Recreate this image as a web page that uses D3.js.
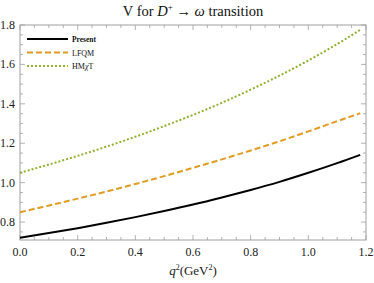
<!DOCTYPE html>
<html><head><meta charset="utf-8">
<script src="https://cdn.jsdelivr.net/npm/d3@7"></script>
<style>body{margin:0;background:#fff}svg{display:block}text{font-family:"Liberation Serif","DejaVu Serif",serif}</style>
</head><body>
<script>
const q2 = [0, 0.1, 0.2, 0.3, 0.4, 0.5, 0.6, 0.7, 0.8, 0.9, 1.0, 1.1, 1.18];
const present = [0.720, 0.744, 0.769, 0.796, 0.825, 0.856, 0.889, 0.925, 0.963, 1.004, 1.050, 1.099, 1.141];
const lfqm    = [0.850, 0.884, 0.919, 0.955, 0.993, 1.033, 1.075, 1.118, 1.163, 1.210, 1.260, 1.312, 1.352];
const hmxt    = [1.050, 1.092, 1.136, 1.183, 1.233, 1.287, 1.344, 1.405, 1.472, 1.543, 1.620, 1.703, 1.776];
const seriesNames = ["Present", "LFQM", "HMχT"];
const xTicks = [0, 0.2, 0.4, 0.6, 0.8, 1.0, 1.2];
const yTicks = [0.8, 1.0, 1.2, 1.4, 1.6, 1.8];

const W = 374, H = 283;
const m = {l: 20, r: 8, t: 25, b: 43};
const svg = d3.select("body").append("svg").attr("width", W).attr("height", H);
const x = d3.scaleLinear().domain([0, 1.2]).range([m.l, W - m.r]);
const y = d3.scaleLinear().domain([0.709, 1.8]).range([H - m.b, m.t]);

// frame
const frameColor = "#a0a0a0";
svg.append("rect").attr("x", x(0)).attr("y", y(1.8)).attr("width", x(1.2) - x(0)).attr("height", y(0.709) - y(1.8))
  .attr("fill", "none").attr("stroke", frameColor).attr("stroke-width", 1);

const xMinor = d3.range(0, 1.2001, 0.05);
const yMinor = d3.range(0.75, 1.8001, 0.05);
const isMajor = (v, arr) => arr.some(t => Math.abs(t - v) < 1e-6);
const tg = svg.append("g").attr("stroke", frameColor).attr("stroke-width", 0.8);
xMinor.forEach(v => {
  const L = isMajor(v, xTicks) ? 5 : 3;
  tg.append("line").attr("x1", x(v)).attr("x2", x(v)).attr("y1", y(0.709)).attr("y2", y(0.709) - L);
  tg.append("line").attr("x1", x(v)).attr("x2", x(v)).attr("y1", y(1.8)).attr("y2", y(1.8) + L);
});
yMinor.forEach(v => {
  const L = isMajor(v, yTicks) ? 5 : 3;
  tg.append("line").attr("y1", y(v)).attr("y2", y(v)).attr("x1", x(0)).attr("x2", x(0) + L);
  tg.append("line").attr("y1", y(v)).attr("y2", y(v)).attr("x1", x(1.2)).attr("x2", x(1.2) - L);
});

// tick labels
svg.append("g").selectAll("text").data(xTicks).join("text")
  .attr("x", d => x(d)).attr("y", H - m.b + 16).attr("text-anchor", "middle")
  .attr("font-size", 12).attr("fill", "#222").text(d => d.toFixed(1));
svg.append("g").selectAll("text").data(yTicks).join("text")
  .attr("x", 15).attr("y", d => y(d) + 4).attr("text-anchor", "end")
  .attr("font-size", 12).attr("fill", "#222").text(d => d.toFixed(1));

// axis label
const xl = svg.append("text").attr("x", 193).attr("y", 275).attr("text-anchor", "middle").attr("font-size", 13).attr("fill", "#222");
xl.append("tspan").attr("font-style", "italic").text("q");
xl.append("tspan").attr("font-size", 8).attr("dy", -5).text("2");
xl.append("tspan").attr("dy", 5).text("(GeV");
xl.append("tspan").attr("font-size", 8).attr("dy", -5).text("2");
xl.append("tspan").attr("dy", 5).text(")");

// title
const tt = svg.append("text").attr("x", 193).attr("y", 16).attr("text-anchor", "middle").attr("font-size", 14.5).attr("fill", "#111");
tt.append("tspan").text("V for ");
tt.append("tspan").attr("font-style", "italic").text("D");
tt.append("tspan").attr("font-size", 9).attr("dy", -6).text("+");
tt.append("tspan").attr("dy", 6).text(" → ");
tt.append("tspan").attr("font-style", "italic").text("ω");
tt.append("tspan").text(" transition");

// curves
const styles = [
  {data: present, color: "#000000", dash: null, width: 2},
  {data: lfqm, color: "#E09C24", dash: "6,3", width: 2},
  {data: hmxt, color: "#8FB032", dash: "2,2", width: 2}
];
const line = d3.line().x((d, i) => x(q2[i])).y(d => y(d)).curve(d3.curveNatural);
styles.forEach(s => {
  svg.append("path").attr("d", line(s.data)).attr("fill", "none")
    .attr("stroke", s.color).attr("stroke-width", s.width)
    .attr("stroke-dasharray", s.dash);
});

// legend
const lg = svg.append("g");
styles.forEach((s, i) => {
  const yy = 39 + i * 13.5;
  lg.append("line").attr("x1", 27).attr("x2", 68).attr("y1", yy).attr("y2", yy)
    .attr("stroke", s.color).attr("stroke-width", s.width).attr("stroke-dasharray", s.dash);
  const t = lg.append("text").attr("x", 72).attr("y", yy + 3).attr("font-size", i === 0 ? 7.5 : 8).attr("fill", "#111");
  if (i === 0) t.attr("font-weight", "bold").text(seriesNames[0]);
  else if (i === 1) t.text(seriesNames[1]);
  else { t.append("tspan").text("HM"); t.append("tspan").attr("font-style", "italic").text("χ"); t.append("tspan").text("T"); }
});
</script>
</body></html>
